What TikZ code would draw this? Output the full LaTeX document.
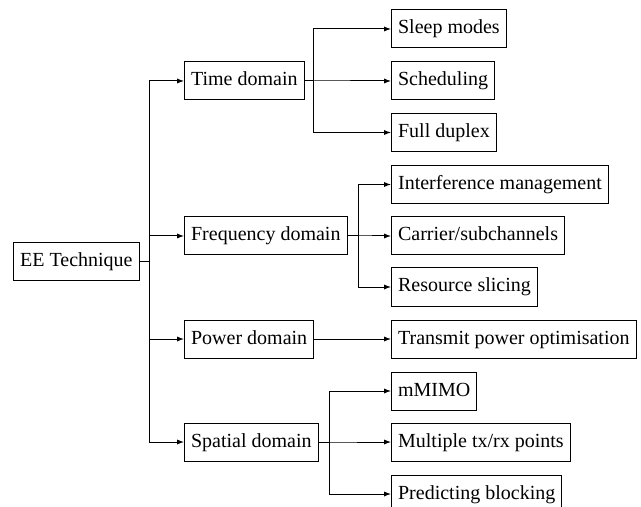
\documentclass[tikz,border=0pt]{standalone}
\usepackage{fontspec}
\setmainfont{Liberation Serif}
\usetikzlibrary{arrows.meta}
\begin{document}
\begin{tikzpicture}[x=0.5pt,y=-0.5pt,
  box/.style={draw,line width=0.5pt,anchor=west,minimum height=19pt,text height=7pt,text depth=2pt,inner xsep=3.3pt,inner ysep=0pt,font=\fontsize{10}{12}\selectfont},
  arr/.style={line width=0.5pt,-{Latex[length=3.5pt,width=2.6pt]}}]
\useasboundingbox (0,0) rectangle (641,507);
\node[box] (ee) at (13,262) {EE Technique};
\node[box] (time) at (184,81) {Time domain};
\node[box] (freq) at (184,236) {Frequency domain};
\node[box] (power) at (184,339) {Power domain};
\node[box] (spatial) at (184,442) {Spatial domain};
\node[box] (sleep) at (391,29) {Sleep modes};
\node[box] (sched) at (391,81) {Scheduling};
\node[box] (full) at (391,132.5) {Full duplex};
\node[box] (interf) at (391,184.5) {Interference management};
\node[box] (carrier) at (391,236) {Carrier/subchannels};
\node[box] (resource) at (391,287) {Resource slicing};
\node[box] (transmit) at (391,339) {Transmit power optimisation};
\node[box] (mmimo) at (391,391) {mMIMO};
\node[box] (multi) at (391,442) {Multiple tx/rx points};
\node[box] (predict) at (391,494) {Predicting blocking};
\foreach \c in {time,freq,power,spatial}
  \draw[arr] (ee.east) -- ++(10,0) |- (\c.west);
\foreach \c in {sleep,sched,full}
  \draw[arr] (time.east) -- ++(9,0) |- (\c.west);
\foreach \c in {interf,carrier,resource}
  \draw[arr] (freq.east) -- ++(11,0) |- (\c.west);
\draw[arr] (power.east) -- (transmit.west);
\foreach \c in {mmimo,multi,predict}
  \draw[arr] (spatial.east) -- ++(11,0) |- (\c.west);
\end{tikzpicture}
\end{document}
